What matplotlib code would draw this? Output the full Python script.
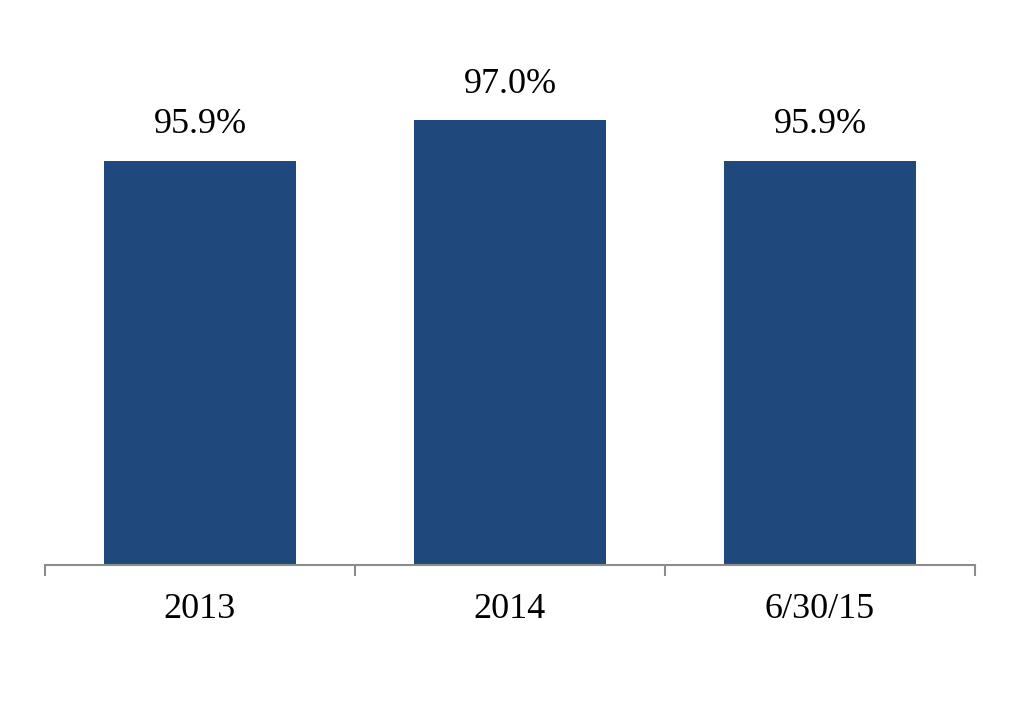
import matplotlib.pyplot as plt

categories = ['2013', '2014', '6/30/15']
values = [95.9, 97.0, 95.9]
value_labels = ['95.9%', '97.0%', '95.9%']

plt.rcParams['font.family'] = ['Liberation Serif', 'DejaVu Serif']

fig = plt.figure(figsize=(10.2, 7.2), dpi=100)
ax = fig.add_axes([45 / 1020, 155 / 720, 930 / 1020, 482 / 720])

x = range(len(categories))
bars = ax.bar(x, [v - 85 for v in values], bottom=85, width=0.62, color='#1F497D')

for b, lab in zip(bars, value_labels):
	ax.annotate(lab, (b.get_x() + b.get_width() / 2, b.get_y() + b.get_height()),
		xytext=(0, 14), textcoords='offset points', ha='center', va='bottom', fontsize=26)

ax.set_xlim(-0.5, len(categories) - 0.5)
ax.set_ylim(85, 98)

for s in ['left', 'right', 'top']:
	ax.spines[s].set_visible(False)
ax.spines['bottom'].set_color('#8c8c8c')
ax.spines['bottom'].set_linewidth(1.5)

# tick marks between categories, labels centred under bars
ax.set_xticks([i - 0.5 for i in range(len(categories) + 1)])
ax.set_xticklabels([])
ax.tick_params(axis='x', which='major', length=8, width=1.5, color='#8c8c8c')
ax.set_xticks(list(x), minor=True)
ax.set_xticklabels(categories, minor=True, fontsize=26)
ax.tick_params(axis='x', which='minor', length=0, pad=20)
ax.set_yticks([])

plt.savefig('out.png', dpi=100)
